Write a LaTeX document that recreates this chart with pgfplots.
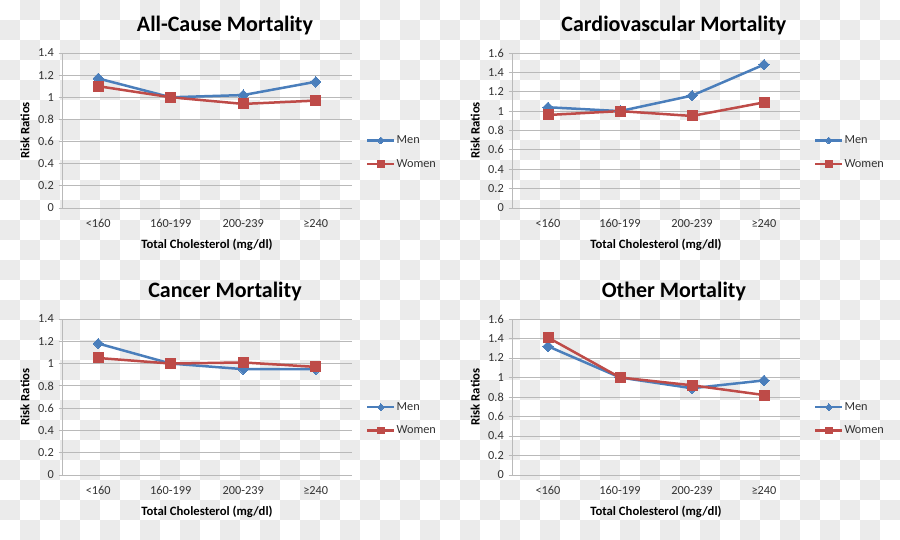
\documentclass[border=0pt]{standalone}
\usepackage{fontspec}
\setmainfont{Carlito}
\usepackage{pgfplots}
\usepackage{pgfplotstable}
\pgfplotsset{compat=1.18}
\definecolor{menblue}{RGB}{74,126,187}
\definecolor{womenred}{RGB}{190,75,72}
\definecolor{gridc}{RGB}{185,185,185}
\definecolor{tickc}{RGB}{50,50,50}
\definecolor{checker}{RGB}{235,235,235}

\pgfplotstableread{
x men women
0 1.17 1.10
1 1.00 1.00
2 1.02 0.94
3 1.14 0.97
}\allcause
\pgfplotstableread{
x men women
0 1.04 0.96
1 1.00 1.00
2 1.16 0.95
3 1.48 1.09
}\cardio
\pgfplotstableread{
x men women
0 1.18 1.05
1 1.00 1.00
2 0.95 1.01
3 0.95 0.97
}\cancer
\pgfplotstableread{
x men women
0 1.32 1.41
1 1.00 1.00
2 0.89 0.92
3 0.97 0.82
}\other

\pgfplotsset{
  panel/.style={
    scale only axis, width=290pt, height=155pt, anchor=south west,
    xmin=-0.5, xmax=3.5, ymin=0,
    xtick={0,1,2,3}, xticklabels={<160,160-199,200-239,≥240},
    axis lines*=left,
    axis line style={gridc, line width=0.9pt},
    ymajorgrids, grid style={gridc, line width=0.9pt},
    xtick style={draw=none},
    ytick style={gridc, line width=0.9pt},
    tick align=outside, major tick length=3.5pt,
    /pgf/number format/assume math mode=true,
    ticklabel style={font=\fontsize{12.3}{14}\selectfont, text=tickc},
    yticklabel style={anchor=east, inner sep=0pt, xshift=-4.5pt},
    xticklabel style={anchor=center, yshift=-12pt},
    xlabel={Total Cholesterol (mg/dl)}, ylabel={Risk Ratios},
    label style={font=\bfseries\fontsize{12.7}{14}\selectfont, text=black},
    xlabel style={at={(axis description cs:0.5,0)}, anchor=center, yshift=-37pt},
    ylabel style={at={(axis description cs:-0.128,0.5)}, anchor=center},
    title style={font=\bfseries\fontsize{22}{26}\selectfont, at={(axis description cs:0.562,1)}, anchor=base, yshift=15.5pt},
    clip=false,
    legend style={at={(axis description cs:1.048,0.36)}, anchor=west, draw=none, fill=none,
      font=\fontsize{12.3}{14}\selectfont, text=tickc, row sep=12pt, inner sep=0pt,
      nodes={inner sep=1pt}},
    legend cell align=left,
    legend image code/.code={\draw[mark repeat=2, mark phase=2, #1] plot coordinates {(0pt,0pt) (13.5pt,0pt) (27pt,0pt)};},
    legend image post style={every mark/.append style={scale=0.65}},
  },
  menstyle/.style={menblue, line width=2.5pt, mark=square*, mark size=3.7pt,
    mark options={solid, fill=menblue, draw=menblue, line width=0pt, rotate=45}},
  womenstyle/.style={womenred, line width=2.5pt, mark=square*, mark size=5pt,
    mark options={solid, fill=womenred, draw=womenred, line width=0pt}},
}

\begin{document}
\begin{tikzpicture}[x=1pt,y=1pt]
\useasboundingbox (0,0) rectangle (900,540);
\fill[white] (0,0) rectangle (900,540);
\foreach \i in {1,3,...,43} {\foreach \j in {0,2,...,26} {\fill[checker] (20*\i,540-20*\j) rectangle ++(20,-20);}}
\foreach \i in {0,2,...,44} {\foreach \j in {1,3,...,25} {\fill[checker] (20*\i,540-20*\j) rectangle ++(20,-20);}}

\begin{axis}[panel, at={(62pt,332pt)}, ymax=1.4, ytick={0,0.2,...,1.4}, title={All-Cause Mortality}]
\addplot[menstyle] table[x=x,y=men] {\allcause};
\addlegendentry{Men}
\addplot[womenstyle] table[x=x,y=women] {\allcause};
\addlegendentry{Women}
\end{axis}

\begin{axis}[panel, at={(512pt,332pt)}, width=288pt, ymax=1.6, ytick={0,0.2,...,1.6}, title={Cardiovascular Mortality}]
\addplot[menstyle] table[x=x,y=men] {\cardio};
\addlegendentry{Men}
\addplot[womenstyle] table[x=x,y=women] {\cardio};
\addlegendentry{Women}
\end{axis}

\begin{axis}[panel, at={(62pt,65pt)}, height=156pt, ymax=1.4, ytick={0,0.2,...,1.4}, title={Cancer Mortality}]
\addplot[menstyle] table[x=x,y=men] {\cancer};
\addlegendentry{Men}
\addplot[womenstyle] table[x=x,y=women] {\cancer};
\addlegendentry{Women}
\end{axis}

\begin{axis}[panel, at={(512pt,65pt)}, width=288pt, height=156pt, ymax=1.6, ytick={0,0.2,...,1.6}, title={Other Mortality}]
\addplot[menstyle] table[x=x,y=men] {\other};
\addlegendentry{Men}
\addplot[womenstyle] table[x=x,y=women] {\other};
\addlegendentry{Women}
\end{axis}
\end{tikzpicture}
\end{document}
